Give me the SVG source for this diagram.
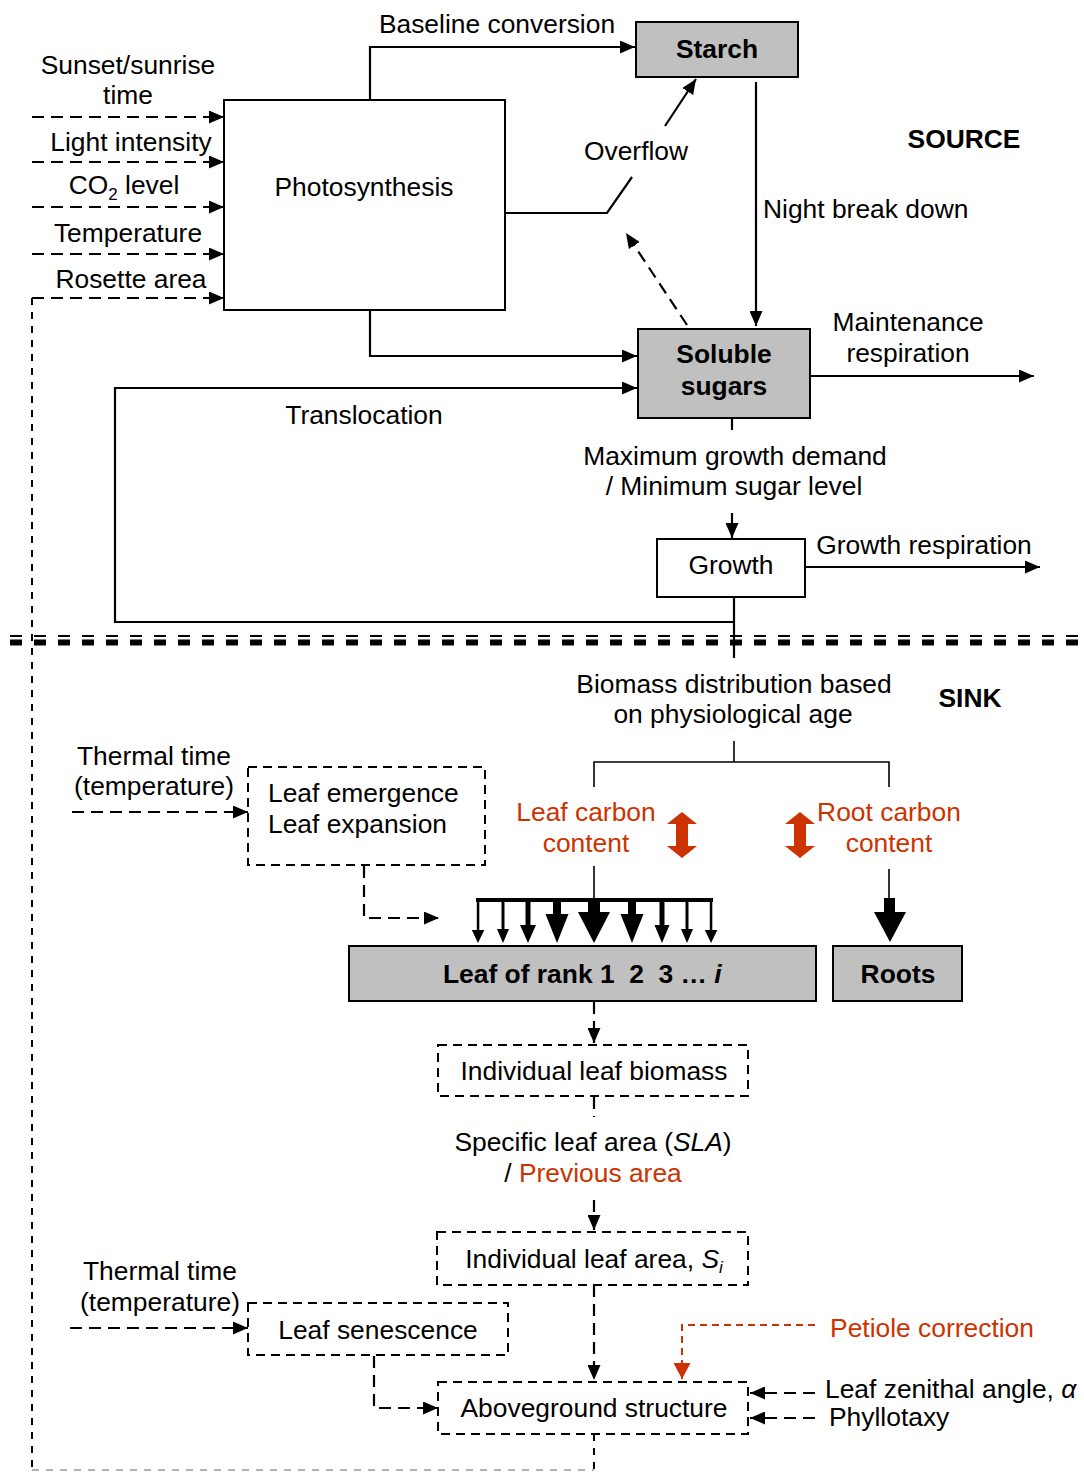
<svg xmlns="http://www.w3.org/2000/svg" width="1084" height="1472" viewBox="0 0 1084 1472">
  <style>
    text { font-family: "Liberation Sans", Arial, sans-serif; font-size: 26.4px; fill: #000; }
    .b { font-weight: bold; }
    .m { text-anchor: middle; }
    .red { fill: #cc3300; }
    .box { fill: #fff; stroke: #000; stroke-width: 2; }
    .gbox { fill: #c0c0c0; stroke: #000; stroke-width: 2; }
    .dbox { fill: none; stroke: #000; stroke-width: 2; stroke-dasharray: 9 6; }
    .ln { fill: none; stroke: #000; stroke-width: 2.2; }
    .thin { fill: none; stroke: #000; stroke-width: 1.6; }
    .dl { fill: none; stroke: #000; stroke-width: 2.2; stroke-dasharray: 12 7; }
    .dv { fill: none; stroke: #000; stroke-width: 2; stroke-dasharray: 7 7; }
    .rd { fill: none; stroke: #cc3300; stroke-width: 2; stroke-dasharray: 7 5; }
    .arr { marker-end: url(#ah); }
    .rarr { marker-end: url(#rah); }
  </style>
  <defs>
    <marker id="ah" markerUnits="userSpaceOnUse" markerWidth="15" markerHeight="13" refX="15" refY="6.5" orient="auto">
      <path d="M0,0 L15,6.5 L0,13 Z" fill="#000"/>
    </marker>
    <marker id="rah" markerUnits="userSpaceOnUse" markerWidth="16" markerHeight="17" refX="16" refY="8.5" orient="auto">
      <path d="M0,0 L16,8.5 L0,17 Z" fill="#cc3300"/>
    </marker>
  </defs>

  <!-- source / sink divider -->
  <g id="divider">
    <line x1="10" y1="636" x2="1084" y2="636" stroke="#000" stroke-width="2" stroke-dasharray="12 12"/>
    <line x1="10" y1="642.5" x2="1084" y2="642.5" stroke="#000" stroke-width="6" stroke-dasharray="12 12"/>
  </g>

  <g id="connectors">
    <!-- environmental inputs to photosynthesis -->
    <line class="dl arr" x1="32" y1="117" x2="224" y2="117"/>
    <line class="dl arr" x1="32" y1="162" x2="224" y2="162"/>
    <line class="dl arr" x1="32" y1="207" x2="224" y2="207"/>
    <line class="dl arr" x1="32" y1="254" x2="224" y2="254"/>
    <line class="dl arr" x1="32" y1="298" x2="224" y2="298"/>
    <!-- rosette area feedback loop from aboveground structure -->
    <polyline class="dv" points="32,298 32,1470"/>
    <line x1="32" y1="1470" x2="594" y2="1470" stroke="#999" stroke-width="1.5" stroke-dasharray="7 7"/>
    <line class="dv" x1="594" y1="1434" x2="594" y2="1470"/>

    <!-- baseline conversion -->
    <polyline class="ln arr" points="370,99 370,47 635,47"/>
    <!-- overflow -->
    <polyline class="ln" points="505,213 607,213 632,177"/>
    <line class="ln arr" x1="665" y1="126" x2="696" y2="79"/>
    <line class="dl arr" x1="687" y1="325" x2="626" y2="233"/>
    <!-- night break down -->
    <line class="ln arr" x1="756" y1="82" x2="756" y2="326"/>
    <!-- photosynthesis to sugars -->
    <polyline class="ln arr" points="370,310 370,356 637,356"/>
    <!-- translocation -->
    <polyline class="ln arr" points="735,622 115,622 115,388 637,388"/>
    <!-- maintenance respiration -->
    <line class="ln arr" x1="811" y1="376" x2="1034" y2="376"/>
    <!-- sugars to growth -->
    <line class="ln" x1="732" y1="418" x2="732" y2="430"/>
    <line class="ln arr" x1="732" y1="513" x2="732" y2="538"/>
    <!-- growth respiration -->
    <line class="ln arr" x1="805" y1="567" x2="1040" y2="567"/>
    <!-- growth down to sink -->
    <line class="ln" x1="734" y1="597" x2="734" y2="658"/>

    <!-- biomass distribution tree -->
    <line class="thin" x1="734" y1="741" x2="734" y2="762"/>
    <polyline class="thin" points="594,787 594,762 889,762 889,787"/>
    <line class="thin" x1="594" y1="866" x2="594" y2="899"/>
    <line class="thin" x1="889" y1="869" x2="889" y2="899"/>

    <!-- distribution to leaf ranks -->
    <rect x="476" y="898" width="237" height="4" fill="#000"/>
    <path fill="#000" d="M476.8,902 h2.5 v28 h5 l-6.3,13 l-6.2,-13 h5 z"/>
    <path fill="#000" d="M501.5,902 h3 v27 h4.5 l-6,14 l-6,-14 h4.5 z"/>
    <path fill="#000" d="M525.5,902 h5 v23 h5.5 l-8,18 l-8,-18 h5.5 z"/>
    <path fill="#000" d="M553,902 h8 v12 h7.5 l-11.5,29 l-11.5,-29 h7.5 z"/>
    <path fill="#000" d="M588,902 h12 v10 h10 l-16,31 l-16,-31 h10 z"/>
    <path fill="#000" d="M628,902 h8 v12 h7.5 l-11.5,29 l-11.5,-29 h7.5 z"/>
    <path fill="#000" d="M659.5,902 h5 v23 h5 l-7.5,18 l-7.5,-18 h5 z"/>
    <path fill="#000" d="M685.5,902 h3 v27 h4.5 l-6,14 l-6,-14 h4.5 z"/>
    <path fill="#000" d="M709.8,902 h2.5 v28 h5 l-6.2,13 l-6.3,-13 h5 z"/>
    <!-- distribution to roots -->
    <path fill="#000" d="M884,898 h11 v14 h11 l-16,30 l-16,-30 h10 z"/>

    <!-- carbon content double arrows -->
    <polygon fill="#cc3300" points="682,812 697,824 688,824 688,846 697,846 682,858 667,846 676,846 676,824 667,824"/>
    <polygon fill="#cc3300" points="800,812 815,824 806,824 806,846 815,846 800,858 785,846 794,846 794,824 785,824"/>

    <!-- leaf emergence inputs/outputs -->
    <line class="dl arr" x1="72" y1="812" x2="248" y2="812"/>
    <polyline class="dl arr" points="364,866 364,918 439,918"/>

    <!-- leaf chain -->
    <line class="dl arr" x1="594" y1="1002" x2="594" y2="1043"/>
    <line class="dl" x1="594" y1="1097" x2="594" y2="1117"/>
    <line class="dl arr" x1="594" y1="1200" x2="594" y2="1230"/>
    <line class="dl arr" x1="594" y1="1285" x2="594" y2="1380"/>

    <!-- leaf senescence inputs/outputs -->
    <line class="dl arr" x1="70" y1="1328" x2="248" y2="1328"/>
    <polyline class="dl arr" points="374,1356 374,1408 438,1408"/>

    <!-- petiole correction -->
    <polyline class="rd rarr" points="815,1325 682,1325 682,1379"/>
    <!-- geometry parameters -->
    <line class="dl arr" x1="815" y1="1393" x2="750" y2="1393"/>
    <line class="dl arr" x1="815" y1="1418" x2="750" y2="1418"/>
  </g>

  <!-- source side labels -->
  <g id="source-labels">
    <text class="m" x="497" y="33">Baseline conversion</text>
    <text class="m" x="128" y="74">Sunset/sunrise</text>
    <text class="m" x="128" y="104">time</text>
    <text class="m" x="131" y="151">Light intensity</text>
    <text class="m" x="124" y="194">CO<tspan font-size="17" dy="6">2</tspan><tspan dy="-6"> level</tspan></text>
    <text class="m" x="128" y="242">Temperature</text>
    <text class="m" x="131" y="288">Rosette area</text>
    <text class="m" x="636" y="160">Overflow</text>
    <text class="b m" x="964" y="148">SOURCE</text>
    <text x="763" y="218">Night break down</text>
    <text class="m" x="908" y="331">Maintenance</text>
    <text class="m" x="908" y="362">respiration</text>
    <text class="m" x="364" y="424">Translocation</text>
    <text class="m" x="735" y="465">Maximum growth demand</text>
    <text class="m" x="734" y="495">/ Minimum sugar level</text>
    <text class="m" x="924" y="554">Growth respiration</text>
  </g>

  <g id="photosynthesis">
    <rect class="box" x="224" y="100" width="281" height="210"/>
    <text class="m" x="364" y="196">Photosynthesis</text>
  </g>
  <g id="starch">
    <rect class="gbox" x="636" y="22" width="162" height="55"/>
    <text class="b m" x="717" y="58">Starch</text>
  </g>
  <g id="soluble-sugars">
    <rect class="gbox" x="638" y="329" width="172" height="89"/>
    <text class="b m" x="724" y="363">Soluble</text>
    <text class="b m" x="724" y="395">sugars</text>
  </g>
  <g id="growth">
    <rect class="box" x="657" y="539" width="148" height="58"/>
    <text class="m" x="731" y="574">Growth</text>
  </g>

  <!-- sink side labels -->
  <g id="sink-labels">
    <text class="m" x="734" y="693">Biomass distribution based</text>
    <text class="m" x="733" y="723">on physiological age</text>
    <text class="b m" x="970" y="707">SINK</text>
    <text class="m" x="154" y="765">Thermal time</text>
    <text class="m" x="154" y="795">(temperature)</text>
    <text class="m red" x="586" y="821">Leaf carbon</text>
    <text class="m red" x="586" y="852">content</text>
    <text class="m red" x="889" y="821">Root carbon</text>
    <text class="m red" x="889" y="852">content</text>
    <text class="m" x="593" y="1151">Specific leaf area (<tspan font-style="italic">SLA</tspan>)</text>
    <text class="m" x="593" y="1182">/ <tspan class="red">Previous area</tspan></text>
    <text class="m" x="160" y="1280">Thermal time</text>
    <text class="m" x="160" y="1311">(temperature)</text>
    <text class="m red" x="932" y="1337">Petiole correction</text>
    <text x="825" y="1398">Leaf zenithal angle, <tspan font-style="italic">α</tspan></text>
    <text x="829" y="1426">Phyllotaxy</text>
  </g>

  <g id="leaf-emergence">
    <rect class="dbox" x="248" y="767" width="237" height="98"/>
    <text x="268" y="802">Leaf emergence</text>
    <text x="268" y="833">Leaf expansion</text>
  </g>
  <g id="leaf-rank">
    <rect class="gbox" x="349" y="946" width="467" height="55"/>
    <text class="b" x="443" y="983" xml:space="preserve">Leaf of rank 1  2  3 … <tspan font-style="italic">i</tspan></text>
  </g>
  <g id="roots">
    <rect class="gbox" x="833" y="946" width="129" height="55"/>
    <text class="b m" x="898" y="983">Roots</text>
  </g>
  <g id="leaf-biomass">
    <rect class="dbox" x="438" y="1045" width="310" height="51"/>
    <text class="m" x="594" y="1080">Individual leaf biomass</text>
  </g>
  <g id="leaf-area">
    <rect class="dbox" x="437" y="1232" width="311" height="53"/>
    <text class="m" x="594" y="1268">Individual leaf area, <tspan font-style="italic">S</tspan><tspan font-style="italic" font-size="17" dy="5">i</tspan></text>
  </g>
  <g id="leaf-senescence">
    <rect class="dbox" x="248" y="1303" width="260" height="52"/>
    <text class="m" x="378" y="1339">Leaf senescence</text>
  </g>
  <g id="aboveground-structure">
    <rect class="dbox" x="438" y="1382" width="310" height="52"/>
    <text class="m" x="594" y="1417">Aboveground structure</text>
  </g>
</svg>
